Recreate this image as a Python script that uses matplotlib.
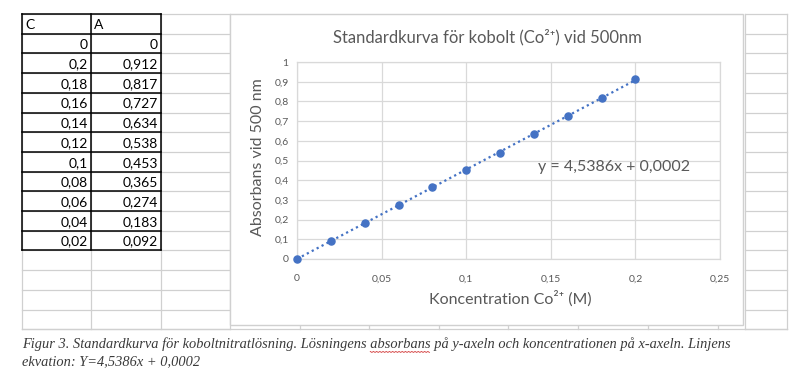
import matplotlib
matplotlib.use("Agg")
import matplotlib.pyplot as plt
import numpy as np

# data read from the sheet / chart
conc = [0, 0.2, 0.18, 0.16, 0.14, 0.12, 0.1, 0.08, 0.06, 0.04, 0.02]
absorb = [0, 0.912, 0.817, 0.727, 0.634, 0.538, 0.453, 0.365, 0.274, 0.183, 0.092]
col_headers = ["C", "A"]
slope = 4.5386
intercept = 0.0002
x_ticks = [0, 0.05, 0.1, 0.15, 0.2, 0.25]
y_ticks = [0, 0.1, 0.2, 0.3, 0.4, 0.5, 0.6, 0.7, 0.8, 0.9, 1]

title = "Standardkurva för kobolt (Co²⁺) vid 500nm"
xlabel = "Koncentration Co²⁺ (M)"
ylabel = "Absorbans vid 500 nm"
equation = "y = 4,5386x + 0,0002"
cap_pre = "Figur 3. Standardkurva för koboltnitratlösning. Lösningens "
cap_word = "absorbans"
caption1 = cap_pre + cap_word + " på y-axeln och koncentrationen på x-axeln. Linjens"
caption2 = "ekvation: Y=4,5386x + 0,0002"

W, H = 800, 373
BLUE = "#4472C4"
GRAY_TXT = "#595959"
GRID = "#D9D9D9"
SHEET = "#D0D0D0"
FONT = ["Lato", "DejaVu Sans"]
CAP = dict(fontsize=10.4, family="Liberation Serif", style="italic", color="#3a3a3a")


def fmt(v):
    return f"{v:g}".replace(".", ",")


fig = plt.figure(figsize=(W / 100, H / 100), dpi=100)

# background "spreadsheet" layer in pixel coordinates
bg = fig.add_axes([0, 0, 1, 1])
bg.set_xlim(0, W)
bg.set_ylim(H, 0)
bg.axis("off")

row_h = 19.7
top = 14
n_rows = 16
cols = [22, 91, 161, 230]
bottom = top + n_rows * row_h

# light sheet grid left of chart
for i in range(n_rows + 1):
    y = top + i * row_h
    bg.plot([cols[0], cols[-1]], [y, y], color=SHEET, lw=0.9, zorder=1)
for x in cols:
    bg.plot([x, x], [top, bottom], color=SHEET, lw=0.9, zorder=1)

# right of chart
for i in range(n_rows + 1):
    y = top + i * row_h
    bg.plot([745, 787], [y, y], color=SHEET, lw=0.9, zorder=1)
for x in [745, 787]:
    bg.plot([x, x], [top, bottom], color=SHEET, lw=0.9, zorder=1)

# strip under the chart
bg.plot([cols[0], 787], [bottom, bottom], color=SHEET, lw=0.9, zorder=1)
for x in [300, 369, 439, 508, 578, 648, 718]:
    bg.plot([x, x], [320, bottom], color=SHEET, lw=0.9, zorder=1)

# data table with black borders
n_tab = len(conc) + 1
tab_bottom = top + n_tab * row_h
for i in range(n_tab + 1):
    y = top + i * row_h
    bg.plot([cols[0], cols[2]], [y, y], color="black", lw=1.1, zorder=3)
for x in cols[:3]:
    bg.plot([x, x], [top, tab_bottom], color="black", lw=1.1, zorder=3)

for j, h in enumerate(col_headers):
    bg.text(cols[j] + 3, top + row_h / 2 + 1, h, ha="left", va="center",
            fontsize=10, family=FONT, color="black", zorder=4)
for i, (c, a) in enumerate(zip(conc, absorb)):
    yc = top + (i + 1.5) * row_h + 1
    bg.text(cols[1] - 3, yc, fmt(c), ha="right", va="center",
            fontsize=10, family=FONT, color="black", zorder=4)
    bg.text(cols[2] - 3, yc, fmt(a), ha="right", va="center",
            fontsize=10, family=FONT, color="black", zorder=4)

# chart frame
bg.add_patch(plt.Rectangle((230, 14), 513, 311, facecolor="white",
                           edgecolor=SHEET, lw=1.0, zorder=2))

# chart texts
bg.text(487, 37, title, ha="center", va="center", fontsize=12,
        family=FONT, color=GRAY_TXT, zorder=4)
bg.text(510, 299, xlabel, ha="center", va="center", fontsize=11.5,
        family=FONT, color=GRAY_TXT, zorder=4)
bg.text(258, 157, ylabel, ha="center", va="center", rotation=90,
        fontsize=11.5, family=FONT, color=GRAY_TXT, zorder=4)

# caption, with the spell-check squiggle under "absorbans"
bg.text(22, 344, caption1, ha="left", va="center", **CAP)
bg.text(22, 362, caption2, ha="left", va="center", **CAP)
r = fig.canvas.get_renderer()
t_pre = bg.text(0, 0, cap_pre, **CAP)
t_word = bg.text(0, 0, cap_word, **CAP)
x0 = 22 + t_pre.get_window_extent(r).width
x1 = x0 + t_word.get_window_extent(r).width
t_pre.remove()
t_word.remove()
zx = np.arange(x0, x1, 1.6)
bg.plot(zx, 351.5 + 0.9 * (np.arange(len(zx)) % 2), color="#D03030", lw=0.6)

# the chart itself
ax = fig.add_axes([297 / W, 1 - 259 / H, (720 - 297) / W, (259 - 62) / H])
ax.set_zorder(5)
ax.patch.set_alpha(0)
ax.set_xlim(0, 0.25)
ax.set_ylim(0, 1)
ax.set_xticks(x_ticks)
ax.set_yticks(y_ticks)
ax.set_xticklabels([fmt(v) for v in x_ticks])
ax.set_yticklabels([fmt(v) for v in y_ticks])
ax.tick_params(length=0, labelsize=7.5, labelcolor=GRAY_TXT)
ax.tick_params(axis="x", pad=11)
ax.tick_params(axis="y", pad=6)
for lab in ax.get_xticklabels() + ax.get_yticklabels():
    lab.set_family(FONT)
ax.grid(True, color=GRID, lw=0.9)
ax.set_axisbelow(True)
for s in ax.spines.values():
    s.set_color(GRID)
    s.set_linewidth(0.9)

ax.scatter(conc, absorb, s=26, color=BLUE, zorder=3, clip_on=False)
xt = np.array([0, max(conc)])
ax.plot(xt, slope * xt + intercept, linestyle=(0, (1, 1.5)), color=BLUE,
        lw=1.6, zorder=2)
ax.text(0.1425, 0.465, equation, ha="left", va="center", fontsize=11.5,
        family=FONT, color=GRAY_TXT, zorder=4)

fig.savefig("out.png", dpi=100)
